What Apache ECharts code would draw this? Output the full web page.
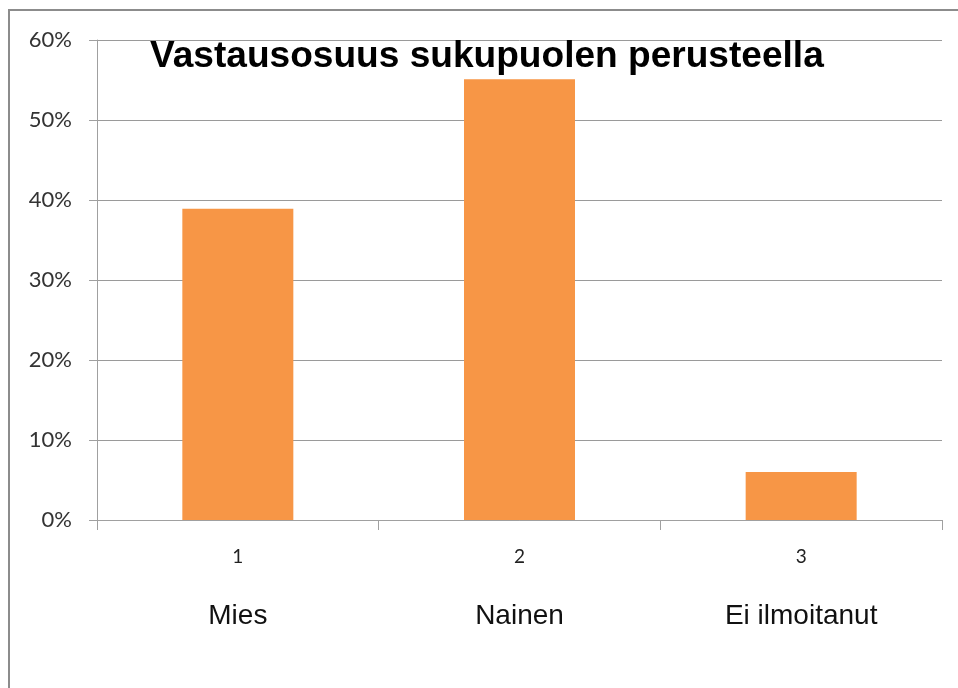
<!DOCTYPE html>
<html>
<head>
<meta charset="utf-8">
<script src="https://cdn.jsdelivr.net/npm/echarts@6/dist/echarts.min.js"></script>
<style>
  html, body { margin: 0; padding: 0; background: #fff; }
  #chart { width: 958px; height: 688px; }
</style>
</head>
<body>
<div id="chart"></div>
<script>
// luokat ja arvot (osuus %)
const categories = ['1', '2', '3']
const groupNames = ['Mies', 'Nainen', 'Ei ilmoitanut']
const shares = [38.9, 55.1, 6.0]
const yTicks = [0, 10, 20, 30, 40, 50, 60]

const chart = echarts.init(document.getElementById('chart'))

const option = {
  animation: false,
  title: {
    text: 'Vastausosuus sukupuolen perusteella',
    left: 145,
    top: 33,
    textStyle: {
      fontFamily: 'Liberation Sans, Arial',
      fontWeight: 'bold',
      fontSize: 37.1,
      color: '#000'
    }
  },
  // kehys
  graphic: [
    {
      type: 'rect',
      shape: { x: 9, y: 10, width: 1000, height: 1000 },
      style: { fill: 'none', stroke: '#8c8c8c', lineWidth: 2 },
      z: -1
    }
  ],
  grid: {
    left: 97,
    right: 16,
    top: 40,
    bottom: 168
  },
  xAxis: {
    type: 'category',
    data: categories,
    axisLine: { lineStyle: { color: '#a0a0a0', width: 1 } },
    axisTick: { show: true, length: 10, lineStyle: { color: '#a0a0a0' } },
    axisLabel: {
      margin: 8,
      formatter: (val, i) => '{a|' + val + '}\n{b|' + groupNames[i] + '}',
      rich: {
        a: {
          fontFamily: 'Lato',
          fontSize: 19,
          color: '#222',
          lineHeight: 58
        },
        b: {
          fontFamily: 'Liberation Sans, Arial',
          fontSize: 28,
          color: '#111',
          lineHeight: 60
        }
      }
    }
  },
  yAxis: {
    type: 'value',
    min: yTicks[0],
    max: yTicks[yTicks.length - 1],
    interval: 10,
    axisLine: { show: true, lineStyle: { color: '#a0a0a0' } },
    axisTick: { show: true, length: 8, lineStyle: { color: '#a0a0a0' } },
    splitLine: { lineStyle: { color: '#9a9a9a', width: 1 } },
    axisLabel: {
      margin: 25,
      padding: [3, 0, 0, 0],
      formatter: '{value}%',
      fontFamily: 'Lato',
      fontSize: 22,
      color: '#333'
    }
  },
  series: [
    {
      type: 'bar',
      data: shares,
      barWidth: 111,
      itemStyle: { color: '#f79646' }
    }
  ]
}

chart.setOption(option)
</script>
</body>
</html>
